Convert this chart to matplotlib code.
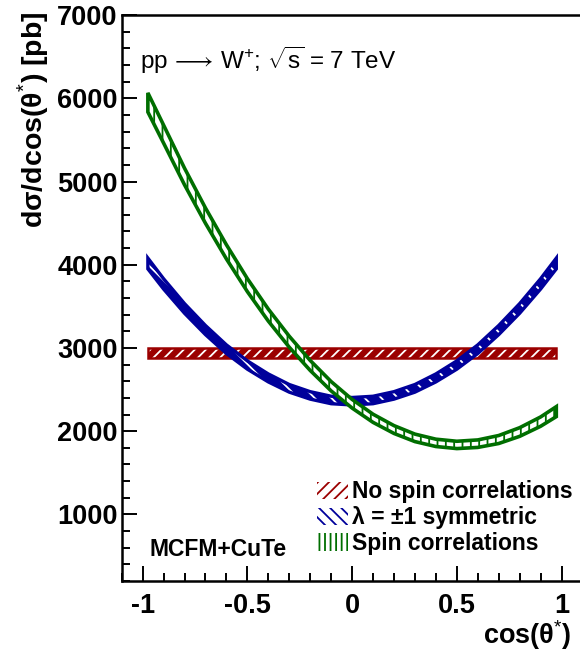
import numpy as np
import matplotlib
matplotlib.use("Agg")
from matplotlib import pyplot as plt
from matplotlib.patches import Patch
from matplotlib.ticker import MultipleLocator

plt.rcParams['font.family'] = ['Liberation Sans', 'DejaVu Sans']
plt.rcParams['mathtext.fontset'] = 'custom'
plt.rcParams['mathtext.rm'] = 'Liberation Sans'
plt.rcParams['mathtext.bf'] = 'Liberation Sans:bold'
plt.rcParams['axes.unicode_minus'] = False
plt.rcParams['hatch.linewidth'] = 1.3

# cos(theta*) points
x_pts = [-0.975, -0.9, -0.8, -0.7, -0.6, -0.5, -0.4, -0.3, -0.2, -0.1, 0.0,
         0.1, 0.2, 0.3, 0.4, 0.5, 0.6, 0.7, 0.8, 0.9, 0.975]

# spin correlations (green)
spin_c = [5950, 5570, 5060, 4590, 4155, 3755, 3395, 3075, 2790, 2540, 2330,
          2155, 2020, 1920, 1860, 1835, 1850, 1900, 1990, 2115, 2235]
spin_e = [115, 108, 100, 92, 85, 78, 72, 66, 60, 56, 52,
          49, 47, 45, 44, 44, 45, 48, 52, 56, 60]

# lambda = +-1 symmetric (blue)
sym_c = [4015, 3770, 3475, 3215, 2985, 2795, 2640, 2515, 2430, 2375, 2360,
         2375, 2430, 2515, 2640, 2795, 2985, 3215, 3475, 3770, 4015]
sym_e = [65, 62, 58, 55, 52, 50, 48, 46, 45, 45, 45,
         45, 45, 46, 48, 50, 52, 55, 58, 62, 65]

# no spin correlations (red, flat)
flat_x = [-0.975, 0.975]
flat_c = [2945, 2945]
flat_e = [60, 60]

labels = ["No spin correlations", "\u03bb = \u00b11 symmetric", "Spin correlations"]
col_red = '#9b0000'
col_blue = '#00009b'
col_green = '#006e00'


def draw_band(ax, x, c, e, col, face, hcol, hatch, lw=2.0):
    x = np.asarray(x, float)
    c = np.asarray(c, float)
    e = np.asarray(e, float)
    lo, hi = c - e, c + e
    ax.fill_between(x, lo, hi, facecolor=face, edgecolor=hcol, hatch=hatch, linewidth=0)
    px = np.concatenate([x, x[::-1]])
    py = np.concatenate([hi, lo[::-1]])
    ax.fill(px, py, facecolor='none', edgecolor=col, linewidth=lw, joinstyle='miter')


fig = plt.figure(figsize=(5.8, 6.52), dpi=100)
ax = fig.add_axes([0.2098, 0.1089, 0.7945, 0.868])

draw_band(ax, flat_x, flat_c, flat_e, col_red, col_red, 'white', '///', 1.8)
draw_band(ax, x_pts, sym_c, sym_e, col_blue, col_blue, 'white', '\\\\', 2.4)
draw_band(ax, x_pts, spin_c, spin_e, col_green, 'white', col_green, '||', 2.6)

ax.set_xlim(-1.1, 1.1)
ax.set_ylim(200, 7000)
ax.xaxis.set_minor_locator(MultipleLocator(0.1))
ax.yaxis.set_minor_locator(MultipleLocator(200))
ax.set_xticks([-1, -0.5, 0, 0.5, 1])
ax.set_xticklabels(["-1", "-0.5", "0", "0.5", "1"])
ax.set_yticks([1000, 2000, 3000, 4000, 5000, 6000, 7000])
ax.tick_params(which='both', direction='in', top=False, right=False, width=1.4)
ax.tick_params(which='major', length=11)
ax.tick_params(which='minor', length=5.5)
ax.tick_params(axis='x', pad=9)
ax.tick_params(axis='y', pad=3)
for lab in ax.get_xticklabels() + ax.get_yticklabels():
    lab.set_fontweight('bold')
    lab.set_fontsize(19.5)
for s in ax.spines.values():
    s.set_linewidth(1.8)

fig.text(33 / 580, 1 - 11 / 652, "d\u03c3/dcos(\u03b8$^{*}$) [pb]", rotation=90,
         ha='center', va='top', fontsize=20.5, fontweight='bold')
fig.text(571 / 580, 1 - 635 / 652, "cos(\u03b8$^{*}$)", ha='right', va='center',
         fontsize=19.5, fontweight='bold')

ax.text(0.04, 0.92, "pp $\\!\\longrightarrow\\!$ W$^{+}$; $\\sqrt{\\mathrm{s}}$ = 7 TeV",
        transform=ax.transAxes, ha='left', va='center', fontsize=17.5)
ax.text(0.06, 0.055, "MCFM+CuTe", transform=ax.transAxes, ha='left', va='center',
        fontsize=16.5, fontweight='bold')

handles = [Patch(facecolor='white', edgecolor=col_red, hatch='///', linewidth=0),
           Patch(facecolor='white', edgecolor=col_blue, hatch='\\\\\\', linewidth=0),
           Patch(facecolor='white', edgecolor=col_green, hatch='|||', linewidth=0)]
ax.legend(handles, labels, loc='upper left', bbox_to_anchor=(0.423, 0.178),
          frameon=False, prop={'weight': 'bold', 'size': 16.5},
          handlelength=1.35, handleheight=0.8, handletextpad=0.2,
          labelspacing=0.13, borderpad=0, borderaxespad=0)

fig.savefig("out.png", dpi=100)
plt.close(fig)
